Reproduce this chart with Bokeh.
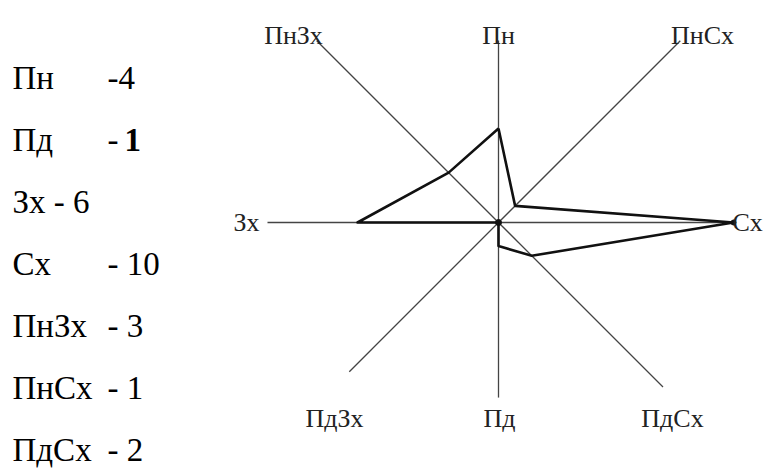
import math
from bokeh.plotting import figure
from bokeh.models import Range1d
from bokeh.core.properties import value
from bokeh.embed import file_html
from bokeh.resources import INLINE

# ---- data ----
directions = ["Пн", "ПнСх", "Сх", "ПдСх", "Пд", "ПдЗх", "Зх", "ПнЗх"]
angles_deg = [0, 45, 90, 135, 180, 225, 270, 315]   # compass bearing
frequency = [4, 1, 10, 2, 1, 0, 6, 3]

list_names = ["Пн", "Пд", "Зх", "Сх", "ПнЗх", "ПнСх", "ПдСх"]
list_values = [4, 1, 6, 10, 3, 1, 2]

# ---- layout constants ----
W, H = 766, 470
OFF = 0                    # page offset of the figure
CX, CY = 498, 222          # page position of rose centre
S = 23.5                   # px per unit
spoke_len = [7.74, 10.94, 9.9, 9.9, 7.45, 8.98, 9.83, 10.94]
FONT = value("Liberation Serif")

def px_x(xp):
    return (xp - CX) / S

def px_y(yp):
    return (CY - yp) / S

x0 = px_x(OFF); x1 = px_x(OFF + W)
y1 = px_y(OFF); y0 = px_y(OFF + H)

p = figure(width=W, height=H, output_backend="svg", toolbar_location=None,
           x_range=Range1d(x0, x1), y_range=Range1d(y0, y1),
           x_axis_type=None, y_axis_type=None, min_border=0)
p.grid.visible = False
p.outline_line_color = None
p.background_fill_color = "white"
p.border_fill_color = "white"

# spokes
sx0, sy0, sx1, sy1 = [], [], [], []
for a, L in zip(angles_deg, spoke_len):
    r = math.radians(a)
    sx0.append(0); sy0.append(0)
    sx1.append(L * math.sin(r)); sy1.append(L * math.cos(r))
p.segment(x0=sx0, y0=sy0, x1=sx1, y1=sy1, line_color="#444444", line_width=1.3)

# rose polygon
px = [v * math.sin(math.radians(a)) for a, v in zip(angles_deg, frequency)]
py = [v * math.cos(math.radians(a)) for a, v in zip(angles_deg, frequency)]
px.append(px[0]); py.append(py[0])
p.line(px, py, line_color="#111111", line_width=2.6, line_join="round")
p.scatter([0], [0], size=6, color="#111111")
i_max = frequency.index(max(frequency))
p.scatter([px[i_max]], [py[i_max]], size=5, color="#111111")

# direction labels
lab_pos = {
    "Пн":   (px_x(498), px_y(35), "center", "alphabetic"),
    "ПнСх": (px_x(702), px_y(35), "center", "alphabetic"),
    "Сх":   (px_x(732), px_y(222), "left", "middle"),
    "ПдСх": (px_x(672), px_y(418), "center", "alphabetic"),
    "Пд":   (px_x(499), px_y(418), "center", "alphabetic"),
    "ПдЗх": (px_x(334), px_y(418), "center", "alphabetic"),
    "Зх":   (px_x(259), px_y(222), "right", "middle"),
    "ПнЗх": (px_x(293), px_y(35), "center", "alphabetic"),
}
for d in directions:
    x, y, al, bl = lab_pos[d]
    p.text([x], [y], text=[d], text_font=FONT,
           text_font_size="26px", text_color="#222222",
           text_align=al, text_baseline=bl)

# left list
base0, step = 77, 62
common = dict(text_font=FONT, text_font_size="33px", text_color="black",
              text_baseline="alphabetic")
for i, (n, v) in enumerate(zip(list_names, list_values)):
    yb = px_y(base0 + step * i)
    if n == "Зх":
        p.text([px_x(12)], [yb], text=[f"{n} - {v}"], **common)
        continue
    p.text([px_x(12)], [yb], text=[n], **common)
    if n == "Пн":
        p.text([px_x(107)], [yb], text=[f"-{v}"], **common)
    elif n == "Пд":
        p.text([px_x(107)], [yb], text=["-"], **common)
        p.text([px_x(124)], [yb], text=[str(v)], text_font_style="bold", **common)
    else:
        p.text([px_x(107)], [yb], text=[f"- {v}"], **common)

open("out.html", "w").write(file_html(p, INLINE))
